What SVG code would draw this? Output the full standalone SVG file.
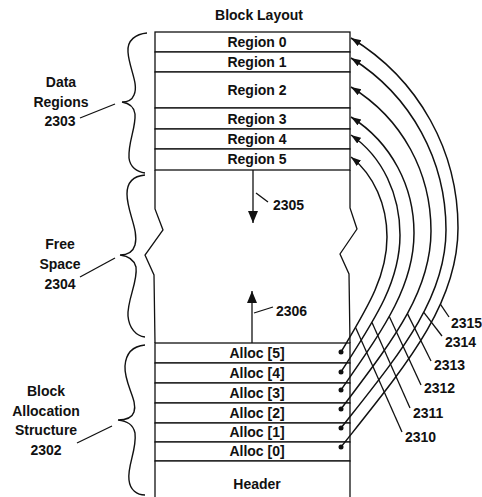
<svg xmlns="http://www.w3.org/2000/svg" width="482" height="497" viewBox="0 0 482 497">
<style>
text{font-family:"Liberation Sans",Arial,sans-serif;font-size:14px;font-weight:bold;fill:#111}
.c{text-anchor:middle}
.box{fill:#fff;stroke:#111;stroke-width:1.3}
.ln{fill:none;stroke:#111;stroke-width:1.3}
.cv{fill:none;stroke:#111;stroke-width:1.5}
.br{fill:none;stroke:#111;stroke-width:1.4}
</style>
<defs>
<marker id="ah" markerUnits="userSpaceOnUse" markerWidth="11" markerHeight="8" refX="10" refY="3.5" orient="auto"><path d="M0,0 L10,3.5 L0,7 z" fill="#111"/></marker>
<marker id="ab" markerUnits="userSpaceOnUse" markerWidth="13" markerHeight="11" refX="12" refY="5" orient="auto"><path d="M0,0 L12,5 L0,10 z" fill="#111"/></marker>
</defs>
<rect width="482" height="497" fill="#fff"/>
<text class="c" x="259" y="20">Block Layout</text>
<g id="region0"><rect class="box" x="155" y="32" width="195" height="20"/><text class="c" x="257" y="47">Region 0</text></g>
<g id="region1"><rect class="box" x="155" y="52" width="195" height="20"/><text class="c" x="257" y="67">Region 1</text></g>
<g id="region2"><rect class="box" x="155" y="72" width="195" height="36"/><text class="c" x="257" y="95">Region 2</text></g>
<g id="region3"><rect class="box" x="155" y="108" width="195" height="21"/><text class="c" x="257" y="124">Region 3</text></g>
<g id="region4"><rect class="box" x="155" y="129" width="195" height="20"/><text class="c" x="257" y="144">Region 4</text></g>
<g id="region5"><rect class="box" x="155" y="149" width="195" height="21"/><text class="c" x="257" y="164">Region 5</text></g>
<g id="free-space">
<path class="ln" d="M155,170 L155,209 L163,230 L145,255 L154,275 L155,343"/>
<path class="ln" d="M350,170 L350,208 L357,229 L340,254 L349,274 L350,343"/>
</g>
<g id="alloc5"><rect class="box" x="155" y="343" width="195" height="20"/><text class="c" x="257" y="358">Alloc [5]</text><circle cx="341" cy="352" r="2.5" fill="#111"/></g>
<g id="alloc4"><rect class="box" x="155" y="363" width="195" height="20"/><text class="c" x="257" y="378">Alloc [4]</text><circle cx="341" cy="372" r="2.5" fill="#111"/></g>
<g id="alloc3"><rect class="box" x="155" y="383" width="195" height="20"/><text class="c" x="257" y="398">Alloc [3]</text><circle cx="341" cy="390" r="2.5" fill="#111"/></g>
<g id="alloc2"><rect class="box" x="155" y="403" width="195" height="20"/><text class="c" x="257" y="418">Alloc [2]</text><circle cx="341" cy="409" r="2.5" fill="#111"/></g>
<g id="alloc1"><rect class="box" x="155" y="423" width="195" height="19"/><text class="c" x="257" y="437">Alloc [1]</text><circle cx="341" cy="428" r="2.5" fill="#111"/></g>
<g id="alloc0"><rect class="box" x="155" y="442" width="195" height="19"/><text class="c" x="257" y="456">Alloc [0]</text><circle cx="341" cy="447" r="2.5" fill="#111"/></g>
<g id="header"><rect class="box" x="155" y="461" width="195" height="42"/><text class="c" x="257" y="489">Header</text></g>
<g id="brace-data">
<path class="br" d="M147,33 C136,34 127,40 128,52 C129,68 139,84 134,95 C132,100 127,102 122,102 C128,103 134,106 135,114 C136,128 128,142 129,158 C130,167 137,172 145,173"/>
<text class="c" x="61" y="87">Data</text><text class="c" x="61" y="107">Regions</text><text class="c" x="60" y="126">2303</text>
</g>
<g id="brace-free">
<path class="br" d="M145,175 C134,176 127,182 127,194 C127,212 139,230 135,245 C133,252 127,255 120,255 C128,256 134,259 136,267 C138,282 127,300 128,316 C129,328 136,336 145,337"/>
<text class="c" x="60" y="249">Free</text><text class="c" x="60" y="269">Space</text><text class="c" x="60" y="289">2304</text>
</g>
<g id="brace-alloc">
<path class="br" d="M145,345 C134,346 126,352 125,366 C124,384 138,400 134,412 C132,418 126,420 118,420 C127,421 133,424 135,433 C137,450 127,466 129,480 C130,490 137,495 145,495"/>
<text class="c" x="46" y="396">Block</text><text class="c" x="46" y="416">Allocation</text><text class="c" x="46" y="435">Structure</text><text class="c" x="46" y="455">2302</text>
</g>
<g id="connectors">
<path class="cv" marker-end="url(#ah)" d="M341,447 C405.4,366 458,304.7 458,228 C458,152 420,80 351,38"/>
<path class="cv" marker-end="url(#ah)" d="M341,428 C398.8,354.7 446,299.3 446,230 C446,161 412,96 351,58"/>
<path class="cv" marker-end="url(#ah)" d="M341,409 C390.5,343.1 431,293.3 431,231 C431,173 403,119 351,87"/>
<path class="cv" marker-end="url(#ah)" d="M341,390 C381.2,331.9 414,288 414,233 C414,187 392,143 351,117"/>
<path class="cv" marker-end="url(#ah)" d="M341,372 C373.5,321.3 400,283 400,235 C400,195 383,157 351,135"/>
<path class="cv" marker-end="url(#ah)" d="M341,352 C366.3,309.4 387,277.3 387,237 C387,205 374,175 351,157"/>
<path class="ln" marker-end="url(#ab)" d="M253,170 L253,223"/>
<path class="ln" marker-end="url(#ab)" d="M252,343 L252,291"/>
<path class="ln" d="M256,193 L268,202"/>
<path class="ln" d="M254,313 L273,307"/>
<path class="ln" d="M355.6,327.5 L402,432"/>
<path class="ln" d="M372,322.4 L410,408"/>
<path class="ln" d="M389.3,316.4 L421,385"/>
<path class="ln" d="M407.4,313.6 L431,361"/>
<path class="ln" d="M423.8,312.4 L442,336"/>
<path class="ln" d="M440.5,304.4 L449,317"/>
<path class="ln" d="M80,118 L115,104"/>
<path class="ln" d="M80,277 L115,258"/>
<path class="ln" d="M77,443 L112,426"/>
</g>
<text x="273" y="210">2305</text>
<text x="276" y="316">2306</text>
<text x="405" y="442">2310</text>
<text x="413" y="418">2311</text>
<text x="424" y="393">2312</text>
<text x="434" y="370">2313</text>
<text x="445" y="347">2314</text>
<text x="451" y="328">2315</text>
</svg>
